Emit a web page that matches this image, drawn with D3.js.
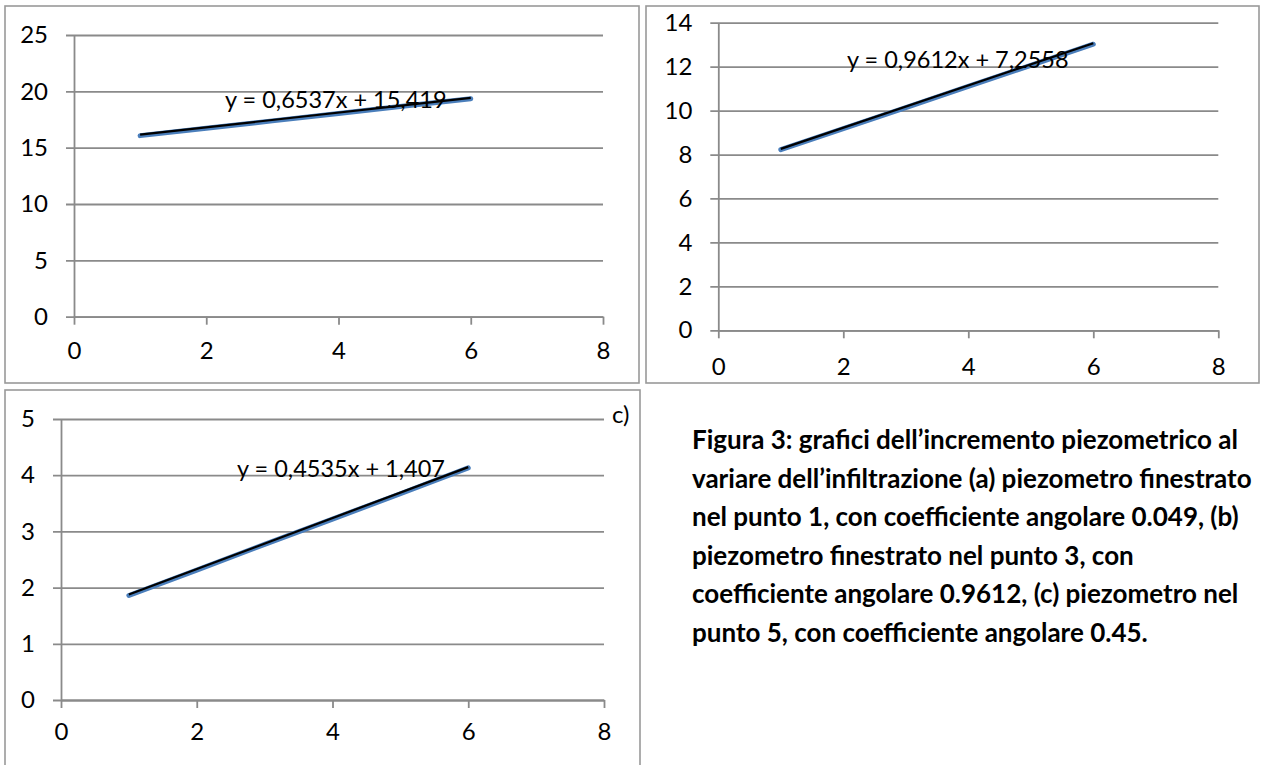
<!DOCTYPE html>
<html>
<head>
<meta charset="utf-8">
<script src="https://cdn.jsdelivr.net/npm/d3@7"></script>
<style>
  body { margin: 0; background: #fff; }
  svg { display: block; }
  .tick text { font-family: Lato, "Open Sans", sans-serif; fill: #000; }
</style>
</head>
<body>
<svg id="chart" width="1261" height="765"></svg>
<script>
// data
const xValues = [1, 2, 3, 4, 5, 6];
const seriesA = [16.07, 16.72, 17.38, 18.03, 18.69, 19.34];
const seriesB = [8.22, 9.18, 10.14, 11.10, 12.06, 13.02];
const seriesC = [1.86, 2.31, 2.77, 3.22, 3.67, 4.13];

const slopes = [0.6537, 0.9612, 0.4535];
const intercepts = [15.419, 7.2558, 1.407];

const xTicks = [0, 2, 4, 6, 8];
const yTicksA = [0, 5, 10, 15, 20, 25];
const yTicksB = [0, 2, 4, 6, 8, 10, 12, 14];
const yTicksC = [0, 1, 2, 3, 4, 5];

const captionLines = [
    'Figura 3: grafici dell\u2019incremento piezometrico al',
    'variare dell\u2019infiltrazione (a) piezometro finestrato',
    'nel punto 1, con coefficiente angolare 0.049, (b)',
    'piezometro finestrato nel punto 3, con',
    'coefficiente angolare 0.9612, (c) piezometro nel',
    'punto 5, con coefficiente angolare 0.45.'
];

const GRID = '#8a8a8a';
const BORDER = '#999999';
const BLUE = '#4a7ebb';
const FONT = 'Lato, "Open Sans", sans-serif';

const svg = d3.select('#chart');

// panel layout
const panels = [
    {
        box: [5, 6, 634, 377],
        plot: { left: 74, right: 603, top: 35, bottom: 316.7 },
        series: seriesA, yTicks: yTicksA, k: 0, xPad: 17,
        eq: [225, 108]
    },
    {
        box: [646, 6, 613, 377],
        plot: { left: 718.3, right: 1218.3, top: 22.7, bottom: 330.3 },
        series: seriesB, yTicks: yTicksB, k: 1, xPad: 20,
        eq: [847, 68]
    },
    {
        box: [5, 390, 635, 400],
        plot: { left: 61, right: 604, top: 419, bottom: 700 },
        series: seriesC, yTicks: yTicksC, k: 2, xPad: 15,
        eq: [237, 477], tag: 'c)'
    }
];

const commaFmt = (v) => String(v).replace('.', ',');

panels.forEach((p) => {
    const [bx, by, bw, bh] = p.box;
    svg.append('rect')
        .attr('x', bx).attr('y', by)
        .attr('width', bw).attr('height', bh)
        .attr('fill', '#fff')
        .attr('stroke', BORDER)
        .attr('stroke-width', 1.6);

    const xScale = d3.scaleLinear()
        .domain([0, 8])
        .range([p.plot.left, p.plot.right]);
    const yScale = d3.scaleLinear()
        .domain(d3.extent(p.yTicks))
        .range([p.plot.bottom, p.plot.top]);
    const plotW = p.plot.right - p.plot.left;

    // y axis + gridlines
    const yAxis = svg.append('g')
        .attr('transform', `translate(${p.plot.left},0)`)
        .call(d3.axisLeft(yScale)
            .tickValues(p.yTicks)
            .tickFormat(d3.format('d'))
            .tickSize(8).tickSizeOuter(0).tickPadding(18));
    yAxis.selectAll('.tick line').attr('x1', plotW);
    yAxis.selectAll('line, path').attr('stroke', GRID).attr('stroke-width', 1.8);
    yAxis.selectAll('text').style('font-size', '24px').attr('fill', '#000');

    // x axis
    const xAxis = svg.append('g')
        .attr('transform', `translate(0,${p.plot.bottom})`)
        .call(d3.axisBottom(xScale)
            .tickValues(xTicks)
            .tickFormat(d3.format('d'))
            .tickSize(8).tickSizeOuter(0).tickPadding(p.xPad));
    xAxis.selectAll('line, path').attr('stroke', GRID).attr('stroke-width', 1.8);
    xAxis.selectAll('text').style('font-size', '24px').attr('fill', '#000');

    const points = xValues.map((x, i) => ({ x, y: p.series[i] }));
    const line = d3.line()
        .x((d) => xScale(d.x))
        .y((d) => yScale(d.y));

    // data series
    svg.append('path')
        .datum(points)
        .attr('d', line)
        .attr('fill', 'none')
        .attr('stroke', BLUE)
        .attr('stroke-width', 5)
        .attr('stroke-linecap', 'round');

    // linear trendline
    const xs = d3.extent(xValues);
    const trend = xs.map((x) => ({ x, y: slopes[p.k] * x + intercepts[p.k] }));
    svg.append('path')
        .datum(trend)
        .attr('d', line)
        .attr('transform', 'translate(0,-0.9)')
        .attr('fill', 'none')
        .attr('stroke', '#000')
        .attr('stroke-width', 2.2);

    svg.append('text')
        .attr('x', p.eq[0]).attr('y', p.eq[1])
        .style('font-family', FONT)
        .style('font-size', '23.5px')
        .text(`y = ${commaFmt(slopes[p.k])}x + ${commaFmt(intercepts[p.k])}`);

    if (p.tag) {
        svg.append('text')
            .attr('x', p.plot.right + 8).attr('y', p.plot.top + 4)
            .style('font-family', FONT)
            .style('font-size', '24px')
            .text(p.tag);
    }
});

// caption
svg.append('g')
    .selectAll('text')
    .data(captionLines)
    .join('text')
    .attr('x', 692)
    .attr('y', (d, i) => 449 + i * 38.5)
    .style('font-family', FONT)
    .style('font-weight', 'bold')
    .style('font-size', '26px')
    .text((d) => d);
</script>
</body>
</html>
